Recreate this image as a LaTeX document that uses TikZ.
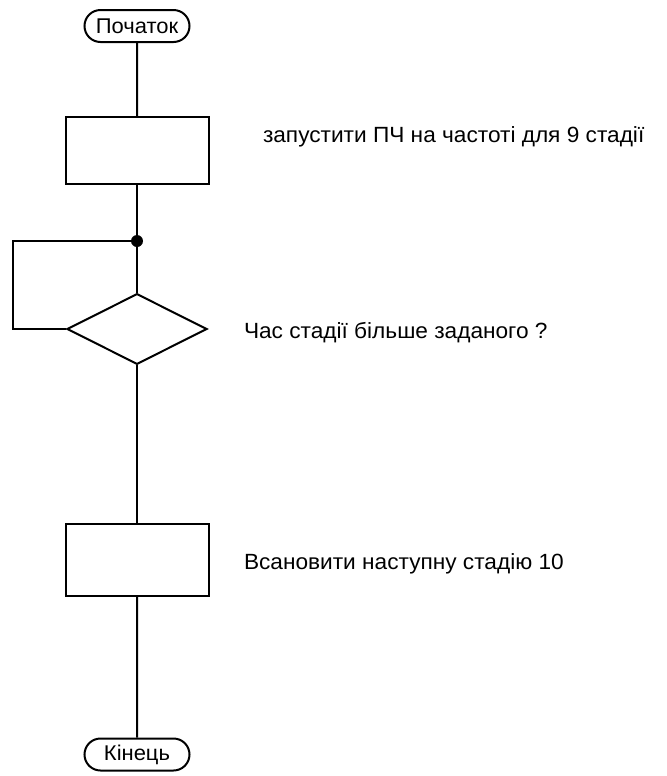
\documentclass[tikz,border=0pt]{standalone}
\usepackage{fontspec}
\setmainfont[FakeStretch=1.03]{Liberation Sans}
\usetikzlibrary{shapes.geometric,shapes.misc}
\begin{document}
\begin{tikzpicture}[x=0.75pt,y=-0.75pt,line width=1.5pt,
  terminal/.style={draw,rounded rectangle,minimum width=78.75pt,minimum height=24pt,inner sep=0pt,font=\fontsize{16}{18}\selectfont},
  process/.style={draw,rectangle,minimum width=107.25pt,inner sep=0pt},
  decision/.style={draw,diamond,minimum width=105pt,minimum height=53pt,inner sep=0pt},
  junction/.style={circle,fill,inner sep=0pt,minimum size=9pt},
  note/.style={anchor=base west,inner sep=0pt,font=\fontsize{16.5}{18}\selectfont}]
\useasboundingbox (0,0) rectangle (667,776);

% blocks
\node[terminal] (start) at (137,26) {Початок};
\node[process,minimum height=50.25pt] (run) at (137,150.5) {};
\node[junction] (join) at (137,241) {};
\node[decision] (check) at (137,329) {};
\node[process,minimum height=54pt] (next) at (137,560) {};
\node[terminal] (stop) at (137,754.5) {Кінець};

% loop-back corners
\coordinate (loopB) at (13,329);
\coordinate (loopT) at (13,241);

% flow lines
\draw (start) -- (run);
\draw (run) -- (join.center);
\draw (join.center) -- (check);
\draw (check.west) -- (loopB) -- (loopT) -- (join.center);
\draw (check) -- (next);
\draw (next) -- (stop);

% comments
\node[note] (t1) at (262,142) {запустити ПЧ на частоті для 9 стадії};
\node[note] (t2) at (243,338) {Час стадії більше заданого ?};
\node[note] (t3) at (243,569) {Всановити наступну стадію 10};
\end{tikzpicture}
\end{document}
